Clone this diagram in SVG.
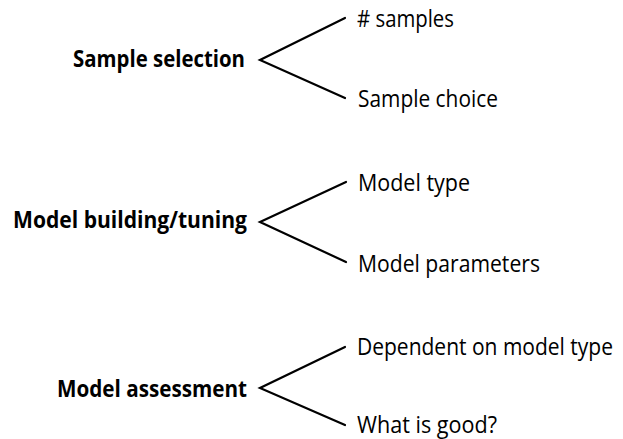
<svg xmlns="http://www.w3.org/2000/svg" width="623" height="439" viewBox="0 0 623 439">
<style>
.h{font-family:"Open Sans","Liberation Sans",sans-serif;font-weight:bold;font-size:23px;fill:#000}
.t{font-family:"Open Sans","Liberation Sans",sans-serif;font-size:23px;fill:#000}
.c{stroke:#000;stroke-width:2.2;fill:none;stroke-linecap:round;stroke-linejoin:miter}
</style>
<rect width="623" height="439" fill="#fff"/>
<g id="connectors">
<path class="c" d="M345 18 L260 60 L345 98"/>
<path class="c" d="M346 182 L260 222 L346 262"/>
<path class="c" d="M345 347 L260 388 L345 425"/>
</g>
<g id="sample-selection"><text class="h" x="73" y="67" textLength="172" lengthAdjust="spacingAndGlyphs">Sample selection</text></g>
<g id="n-samples"><text class="t" x="357" y="27" textLength="97" lengthAdjust="spacingAndGlyphs"># samples</text></g>
<g id="sample-choice"><text class="t" x="358" y="107" textLength="140" lengthAdjust="spacingAndGlyphs">Sample choice</text></g>
<g id="model-building"><text class="h" x="13" y="228" textLength="234" lengthAdjust="spacingAndGlyphs">Model building/tuning</text></g>
<g id="model-type"><text class="t" x="358" y="191" textLength="112" lengthAdjust="spacingAndGlyphs">Model type</text></g>
<g id="model-parameters"><text class="t" x="358" y="272" textLength="182" lengthAdjust="spacingAndGlyphs">Model parameters</text></g>
<g id="model-assessment"><text class="h" x="57" y="397" textLength="190" lengthAdjust="spacingAndGlyphs">Model assessment</text></g>
<g id="dependent"><text class="t" x="357" y="355" textLength="256" lengthAdjust="spacingAndGlyphs">Dependent on model type</text></g>
<g id="what-is-good"><text class="t" x="357" y="433" textLength="140" lengthAdjust="spacingAndGlyphs">What is good?</text></g>
</svg>
